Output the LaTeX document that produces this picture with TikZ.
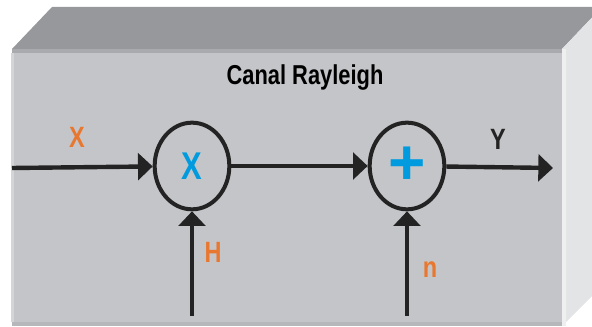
\documentclass[tikz,border=0pt]{standalone}
\usepackage{fontspec}
\setmainfont{Liberation Sans}[FakeStretch=0.8]
\newfontfamily\plusfont{Liberation Sans}
\usetikzlibrary{arrows.meta,shapes.geometric}

\definecolor{topgray}{HTML}{96989C}
\definecolor{sidegray}{HTML}{E3E4E6}
\definecolor{sideedge}{HTML}{EFEFF0}
\definecolor{frontgray}{HTML}{C4C5C8}
\definecolor{edgetop}{HTML}{A9AAAD}
\definecolor{edgeleft}{HTML}{D4D5D7}
\definecolor{edgebottom}{HTML}{B6B7BA}
\definecolor{wirecol}{HTML}{232323}
\definecolor{labelorange}{HTML}{E8782F}
\definecolor{opblue}{HTML}{009BDE}

\begin{document}
\begin{tikzpicture}%
  [x=0.75pt, y=-0.75pt,
   >={Triangle[length=11pt,width=20pt]},
   block/.style={ellipse, draw=wirecol, line width=3pt, inner sep=0pt,
                 minimum width=56pt, minimum height=65pt, text=opblue},
   lbl/.style={font=\bfseries\fontsize{22}{22}\selectfont, text=labelorange},
  ]
\clip (0,0) rectangle (592,327);

% the channel box: top, side, front
\fill[topgray]    (12,49) -- (52,7) -- (602,7) -- (562,49) -- cycle;
\fill[sidegray]   (562,49) -- (602,7) -- (602,286) -- (562,326) -- cycle;
\fill[sideedge]   (562,49) rectangle (566,326);
\fill[frontgray]  (12,49) rectangle (562,326);
\fill[edgetop]    (12,49) rectangle (562,53);
\fill[edgeleft]   (11,53) rectangle (14,322);
\fill[edgebottom] (12,322) rectangle (562,326);

\node[font=\bfseries\fontsize{20.5}{20.5}\selectfont] (title) at (305,77) {Canal Rayleigh};

\node[block, font=\bfseries\fontsize{29}{29}\selectfont] (mul) at (192,166) {X};
\node[block, font=\plusfont\bfseries\fontsize{48}{48}\selectfont] (sum) at (407,166) {+};

\coordinate (in)  at (12,168);
\coordinate (out) at (553,168);
\coordinate (hin) at (192,316);
\coordinate (nin) at (407,316);

\node[lbl] (xlbl) at (77,137) {X};
\node[lbl] (hlbl) at (213,252) {H};
\node[lbl] (nlbl) at (430,270) {n};
\node[lbl, text=wirecol] (ylbl) at (498,139) {Y};

\path[->, color=wirecol, line width=3.3pt]
%   FROM      STYLE                  TO
   (in)  edge                        (mul)
   (mul) edge                        (sum)
   (sum) edge                        (out)
   (hin) edge[line width=2.8pt]      (mul)
   (nin) edge[line width=2.8pt]      (sum)
   ;
\end{tikzpicture}
\end{document}
